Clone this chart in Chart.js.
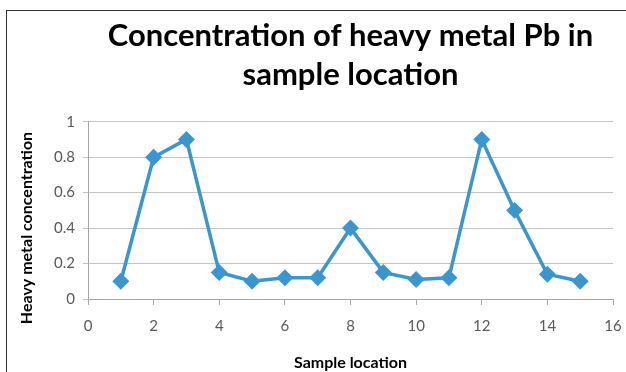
<!DOCTYPE html>
<html>
<head>
<meta charset="utf-8">
<script src="https://cdn.jsdelivr.net/npm/chart.js@4"></script>
<style>
  html, body { margin: 0; padding: 0; background: #fff; }
  #wrap { position: relative; width: 626px; height: 372px; }
  #frame { position: absolute; left: 6px; top: 10px; right: 0; bottom: 0;
           border-top: 1.5px solid #333; border-left: 1.5px solid #333; pointer-events: none; }
</style>
</head>
<body>
<div id="wrap">
  <canvas id="pb-chart" width="626" height="372"></canvas>
  <div id="frame"></div>
</div>
<script>
const sampleLocations = [1, 2, 3, 4, 5, 6, 7, 8, 9, 10, 11, 12, 13, 14, 15];
const pbConcentration = [0.1, 0.8, 0.9, 0.15, 0.1, 0.12, 0.12, 0.4, 0.15, 0.11, 0.12, 0.9, 0.5, 0.14, 0.1];
const titleLines = ['Concentration of heavy metal Pb in', 'sample location'];
const xTitle = 'Sample location';
const yTitle = 'Heavy metal concentration';

const lineColor = '#3a96cf';
const tickFont = { family: 'Lato', size: 15 };
const axisTitleFont = { family: 'Lato', size: 16, weight: 'bold' };

// y axis title sits a bit below the plot's middle, so draw it by hand
const yTitlePlugin = {
	id: 'yTitle',
	afterDraw(chart) {
		const ctx = chart.ctx;
		ctx.save();
		ctx.translate(27, 228);
		ctx.rotate(-Math.PI / 2);
		ctx.font = 'bold 16px Lato';
		ctx.fillStyle = '#000';
		ctx.textAlign = 'center';
		ctx.textBaseline = 'middle';
		ctx.fillText(yTitle, 0, 0);
		ctx.restore();
	},
};

new Chart(document.getElementById('pb-chart'), {
	type: 'line',
	data: {
		datasets: [
			{
				data: sampleLocations.map((x, i) => ({ x: x, y: pbConcentration[i] })),
				borderColor: lineColor,
				backgroundColor: lineColor,
				borderWidth: 3.5,
				pointStyle: 'rectRot',
				pointRadius: 6,
				fill: false,
				tension: 0,
			},
		],
	},
	plugins: [yTitlePlugin],
	options: {
		responsive: false,
		animation: false,
		layout: { padding: { left: 0, right: 13, top: 0, bottom: 0 } },
		plugins: {
			legend: { display: false },
			tooltip: { enabled: false },
			title: {
				display: true,
				fullSize: false,
				text: titleLines,
				color: '#000',
				font: { family: 'Lato', size: 31, weight: 'bold', lineHeight: 1.27 },
				padding: { top: 16, bottom: 27 },
			},
		},
		scales: {
			x: {
				type: 'linear',
				min: 0,
				max: 16,
				afterFit: (s) => { s.height = 73; s.paddingLeft = 0; s.paddingRight = 0; },
				ticks: { stepSize: 2, color: '#595959', font: tickFont, padding: 12 },
				grid: { drawOnChartArea: false, tickLength: 6, color: '#a6a6a6' },
				border: { color: '#a6a6a6' },
				title: {
					display: true,
					text: xTitle,
					color: '#000',
					font: axisTitleFont,
					padding: { top: 10, bottom: 0 },
				},
			},
			y: {
				min: 0,
				max: 1,
				afterFit: (s) => { s.width = 88; s.paddingTop = 0; s.paddingBottom = 0; },
				ticks: {
					stepSize: 0.2,
					color: '#595959',
					font: tickFont,
					padding: 8,
					callback: (v) => String(Math.round(v * 10) / 10),
				},
				grid: { color: '#c4c4c4', tickLength: 5 },
				border: { color: '#a6a6a6' },
			},
		},
	},
});
</script>
</body>
</html>
